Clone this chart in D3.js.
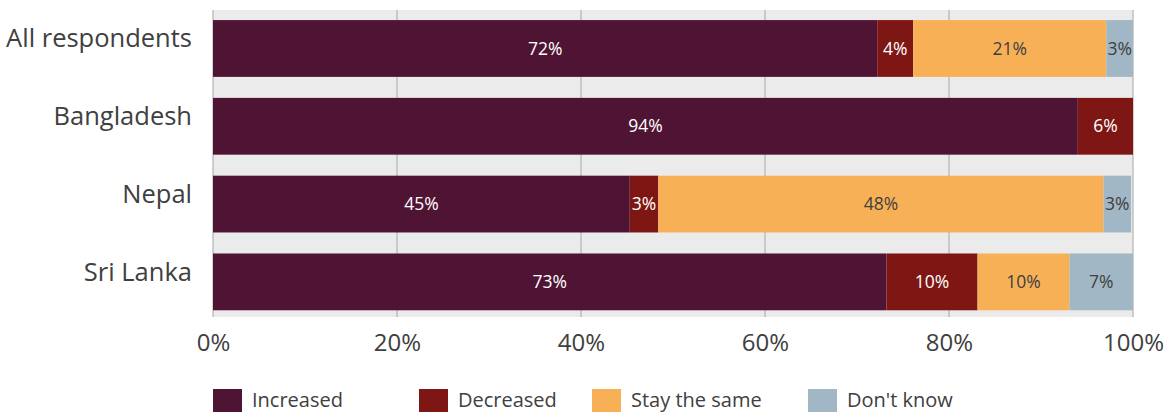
<!DOCTYPE html>
<html>
<head>
<meta charset="utf-8">
<script src="https://cdn.jsdelivr.net/npm/d3@7"></script>
<style>
  body { margin: 0; background: #fff; }
  svg { display: block; font-family: "Open Sans", "Noto Sans", sans-serif; }
</style>
</head>
<body>
<div id="chart"></div>
<script>
const categories = ["All respondents", "Bangladesh", "Nepal", "Sri Lanka"];
const seriesNames = ["Increased", "Decreased", "Stay the same", "Don't know"];
const increased = [72.2, 94.0, 45.3, 73.2];
const decreased = [3.9, 6.0, 3.1, 9.9];
const staySame = [21.0, 0, 48.4, 10.0];
const dontKnow = [2.9, 0, 3.0, 6.9];
const xTicks = [0, 20, 40, 60, 80, 100];
const colors = ["#4f1434", "#7e1714", "#f8b057", "#a1b7c5"];
const labelColors = ["#ffffff", "#ffffff", "#404040", "#404040"];

const width = 1168, height = 412;
const margin = { top: 10, right: 35, bottom: 95, left: 213 };

const svg = d3.select("#chart").append("svg")
  .attr("width", width)
  .attr("height", height);

const x = d3.scaleLinear().domain([0, 100]).range([margin.left, width - margin.right]);
const y = d3.scaleBand().domain(categories)
  .range([margin.top, height - margin.bottom])
  .paddingInner(0.27).paddingOuter(0.108).align(0.6);

// rows for stacking
const rows = categories.map((c, i) => ({
  category: c,
  "Increased": increased[i],
  "Decreased": decreased[i],
  "Stay the same": staySame[i],
  "Don't know": dontKnow[i]
}));
const stacked = d3.stack().keys(seriesNames)(rows);

// plot background
svg.append("rect")
  .attr("x", x(0)).attr("y", margin.top)
  .attr("width", x(100) - x(0))
  .attr("height", height - margin.bottom - margin.top)
  .attr("fill", "#ebebeb");

// gridlines
svg.append("g")
  .selectAll("line")
  .data(xTicks)
  .join("line")
  .attr("x1", d => x(d)).attr("x2", d => x(d))
  .attr("y1", margin.top).attr("y2", height - margin.bottom)
  .attr("stroke", "#b3b3b3")
  .attr("stroke-width", 1.2);

// bars
const layer = svg.append("g")
  .selectAll("g")
  .data(stacked)
  .join("g")
  .attr("fill", (d, i) => colors[i]);

layer.selectAll("rect")
  .data(d => d)
  .join("rect")
  .attr("x", d => x(d[0]))
  .attr("y", d => y(d.data.category))
  .attr("width", d => x(d[1]) - x(d[0]))
  .attr("height", y.bandwidth());

// value labels
svg.append("g")
  .selectAll("g")
  .data(stacked)
  .join("g")
  .attr("fill", (d, i) => labelColors[i])
  .selectAll("text")
  .data(d => d.filter(p => p[1] - p[0] > 0))
  .join("text")
  .attr("x", d => x((d[0] + d[1]) / 2))
  .attr("y", d => y(d.data.category) + y.bandwidth() / 2)
  .attr("dy", "0.35em")
  .attr("text-anchor", "middle")
  .attr("font-size", 17.5)
  .text(d => Math.round(d[1] - d[0]) + "%");

// y axis labels
svg.append("g")
  .selectAll("text")
  .data(categories)
  .join("text")
  .attr("x", 192)
  .attr("y", d => y(d) + y.bandwidth() / 2 - 10)
  .attr("dy", "0.35em")
  .attr("text-anchor", "end")
  .attr("font-size", 25.5)
  .attr("fill", "#404040")
  .text(d => d);

// x axis
const xAxis = svg.append("g")
  .attr("transform", `translate(0,${height - margin.bottom})`)
  .call(d3.axisBottom(x).tickValues(xTicks).tickFormat(d => d + "%").tickSize(0).tickPadding(17));
xAxis.select(".domain").remove();
xAxis.selectAll("text")
  .attr("font-size", 24)
  .attr("font-family", "Open Sans, Noto Sans, sans-serif")
  .attr("fill", "#404040");

// legend
const legendX = [213, 419, 592, 808];
const legend = svg.append("g")
  .selectAll("g")
  .data(seriesNames)
  .join("g")
  .attr("transform", (d, i) => `translate(${legendX[i]},389)`);
legend.append("rect")
  .attr("width", 29).attr("height", 24)
  .attr("fill", (d, i) => colors[i]);
legend.append("text")
  .attr("x", 39).attr("y", 11)
  .attr("dy", "0.35em")
  .attr("font-size", 20)
  .attr("fill", "#404040")
  .text(d => d);
</script>
</body>
</html>
